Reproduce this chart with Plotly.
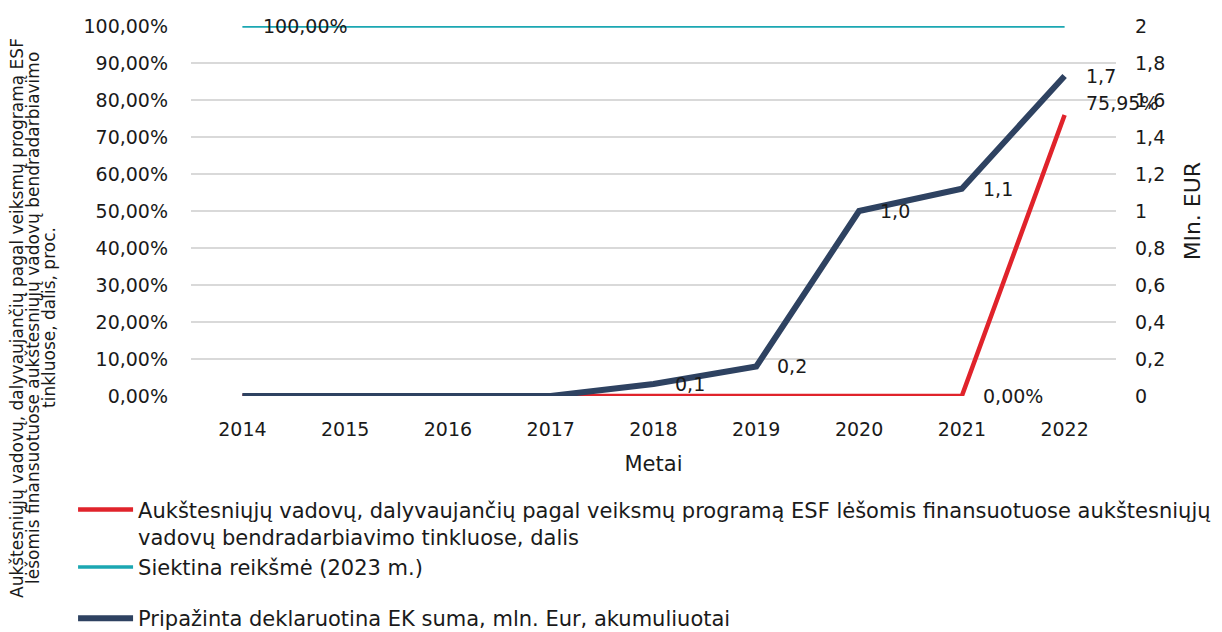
import plotly.graph_objects as go

years = ["2014", "2015", "2016", "2017", "2018", "2019", "2020", "2021", "2022"]
share_pct = [0, 0, 0, 0, 0, 0, 0, 0, 75.95]
target_pct = [100, 100, 100, 100, 100, 100, 100, 100, 100]
declared_mln = [0, 0, 0, 0, 0.065, 0.16, 1.0, 1.12, 1.73]

share_labels = ["", "", "", "", "", "", "", "0,00%", "75,95%"]
target_labels = ["100,00%", "", "", "", "", "", "", "", ""]
declared_labels = ["", "", "", "", "0,1", "0,2", "1,0", "1,1", "1,7"]

left_ticks = [0, 10, 20, 30, 40, 50, 60, 70, 80, 90, 100]
left_ticktext = ["0,00%", "10,00%", "20,00%", "30,00%", "40,00%", "50,00%",
                 "60,00%", "70,00%", "80,00%", "90,00%", "100,00%"]
right_ticks = [0, 0.2, 0.4, 0.6, 0.8, 1.0, 1.2, 1.4, 1.6, 1.8, 2.0]
right_ticktext = ["0", "0,2", "0,4", "0,6", "0,8", "1", "1,2", "1,4", "1,6", "1,8", "2"]

name_share = ("Aukštesniųjų vadovų, dalyvaujančių pagal veiksmų programą ESF lėšomis finansuotuose aukštesniųjų"
              "<br>vadovų bendradarbiavimo tinkluose, dalis")
name_target = "Siektina reikšmė (2023 m.)"
name_declared = "Pripažinta deklaruotina EK suma, mln. Eur, akumuliuotai"

left_title_lines = [
    "Aukštesniųjų vadovų, dalyvaujančių pagal veiksmų programą ESF",
    "lėšomis finansuotuose aukštesniųjų vadovų bendradarbiavimo",
    "tinkluose, dalis, proc.",
]

FONT = "DejaVu Sans"
TXT = "#1a1a1a"

# page body has an 8px margin, so the figure is drawn 8px smaller
W, H = 1214, 624
L, T = 183, 18
PW, PH = 925, 370

fig = go.Figure()
fig.add_trace(go.Scatter(
    x=years, y=share_pct, name=name_share, mode="lines",
    line=dict(color="#E0232B", width=4.5),
    legendgroup="a", cliponaxis=False, yaxis="y"))
fig.add_trace(go.Scatter(
    x=years, y=target_pct, name=name_target, mode="lines",
    line=dict(color="#1BA7B2", width=3.5),
    legendgroup="a", cliponaxis=False, yaxis="y"))
fig.add_trace(go.Scatter(
    x=years, y=declared_mln, name=name_declared, mode="lines",
    line=dict(color="#2E4261", width=6),
    legendgroup="b", cliponaxis=False, yaxis="y2"))

annotations = []
label_sets = [
    (share_labels, share_pct, "y", [0] * 8 + [12]),
    (target_labels, target_pct, "y", [0] * 9),
    (declared_labels, declared_mln, "y2", [0] * 9),
]
for labels, values, yref, yshifts in label_sets:
    for i, (val, lab, ys) in enumerate(zip(values, labels, yshifts)):
        if lab:
            annotations.append(dict(
                x=i, y=val, xref="x", yref=yref, text=lab, showarrow=False,
                xanchor="left", yanchor="middle", xshift=19, yshift=ys,
                font=dict(family=FONT, size=19, color=TXT)))

# left axis title, one annotation per line for tight line spacing
for k, line in enumerate(left_title_lines):
    px = 9 + k * 16  # pixel x in figure coords
    annotations.append(dict(
        text=line, xref="paper", yref="paper",
        x=(px - L) / PW, y=(T + PH - 310) / PH,
        xanchor="center", yanchor="middle", textangle=-90, showarrow=False,
        font=dict(family=FONT, size=17, color=TXT)))

fig.update_layout(
    width=W, height=H,
    margin=dict(l=L, r=W - L - PW, t=T, b=H - T - PH, autoexpand=False),
    paper_bgcolor="white", plot_bgcolor="white",
    font=dict(family=FONT, size=19, color=TXT),
    showlegend=True,
    legend=dict(
        x=-0.1275, y=-0.252, xanchor="left", yanchor="top",
        orientation="v", traceorder="grouped", tracegroupgap=21,
        itemwidth=55, valign="top",
        font=dict(family=FONT, size=21, color=TXT),
        bgcolor="rgba(0,0,0,0)"),
    xaxis=dict(
        type="category", range=[-0.5, 8.5], showgrid=False, showline=False,
        zeroline=False, ticks="", tickfont=dict(size=19), ticklabelstandoff=20,
        automargin=False,
        title=dict(text="Metai", font=dict(size=21), standoff=17)),
    yaxis=dict(
        range=[0, 100], tickvals=left_ticks, ticktext=left_ticktext,
        showgrid=True, gridcolor="#D9D9D9", gridwidth=1.5, zeroline=False,
        showline=False, ticks="", tickfont=dict(size=19), ticklabelstandoff=22,
        automargin=False),
    yaxis2=dict(
        range=[0, 2], tickvals=right_ticks, ticktext=right_ticktext,
        overlaying="y", side="right", showgrid=False, zeroline=False,
        showline=False, ticks="", tickfont=dict(size=19), ticklabelstandoff=18,
        automargin=False,
        title=dict(text="Mln. EUR", font=dict(size=22), standoff=20)),
    annotations=annotations,
)

fig.write_html("out.html")
